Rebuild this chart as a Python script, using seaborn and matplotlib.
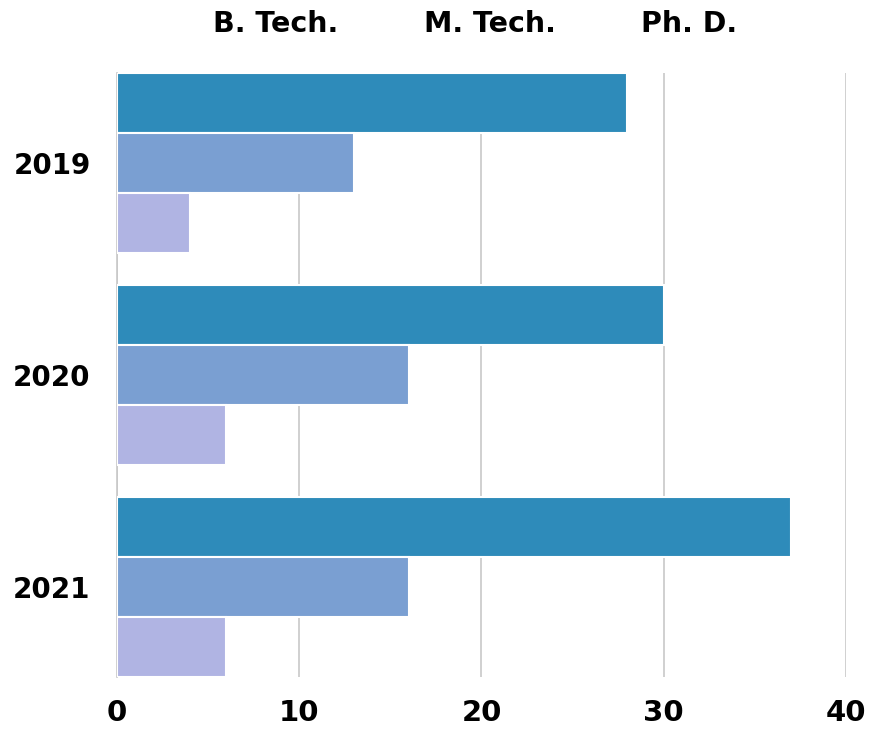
import matplotlib
matplotlib.use("Agg")
import matplotlib.pyplot as plt
import seaborn as sns
import pandas as pd
from matplotlib.lines import Line2D

years = ["2019", "2020", "2021"]
programs = ["B. Tech.", "M. Tech.", "Ph. D."]
btech = [28, 30, 37]
mtech = [13, 16, 16]
phd = [4, 6, 6]
colors = ["#2E8BBA", "#7A9FD2", "#B0B4E3"]
xticks = [0, 10, 20, 30, 40]

rows = []
for i, y in enumerate(years):
    for p, vals in zip(programs, [btech, mtech, phd]):
        rows.append({"year": y, "program": p, "count": vals[i]})
df = pd.DataFrame(rows)

sns.set_style("white")
plt.rcParams['font.family'] = ['DejaVu Sans']
plt.rcParams['text.color'] = 'black'
plt.rcParams['xtick.color'] = 'black'
plt.rcParams['ytick.color'] = 'black'

W, H = 869, 731
fig = plt.figure(figsize=(W / 100, H / 100), dpi=100)
ax = fig.add_axes([117 / W, 1 - 677 / H, (846 - 117) / W, (677 - 73) / H])

sns.barplot(data=df, y="year", x="count", hue="program", order=years,
            hue_order=programs, palette=colors, orient="h", width=0.85,
            saturation=1, ax=ax, legend=False, edgecolor="white", linewidth=1.5,
            zorder=3)

ax.set_xlim(0, 40)
ax.set_ylim(2.4245, -0.4245)
ax.set_xticks(xticks)
ax.set_xticklabels([str(t) for t in xticks], fontsize=21, fontweight="bold")
ax.set_yticklabels(years, fontsize=20, fontweight="bold")
ax.tick_params(axis="x", length=0, pad=16, colors="black")
ax.tick_params(axis="y", length=0, pad=19, colors="black")
ax.set_xlabel("")
ax.set_ylabel("")
ax.xaxis.grid(True, color="#C8C8C8", linewidth=1.2, zorder=0)
ax.set_axisbelow(True)
for s in ["top", "right", "bottom"]:
    ax.spines[s].set_visible(False)
ax.spines["left"].set_color("#C8C8C8")
ax.spines["left"].set_linewidth(1.2)

handles = [Line2D([], [], linestyle="none") for _ in programs]
leg = fig.legend(handles, programs, loc="center", bbox_to_anchor=(475 / W, 1 - 24 / H),
                 ncol=3, frameon=False, handlelength=0, handletextpad=0,
                 columnspacing=3.0, prop={"size": 20.5, "weight": "bold"})
for t in leg.get_texts():
    t.set_color("black")

fig.savefig("out.png", dpi=100)
